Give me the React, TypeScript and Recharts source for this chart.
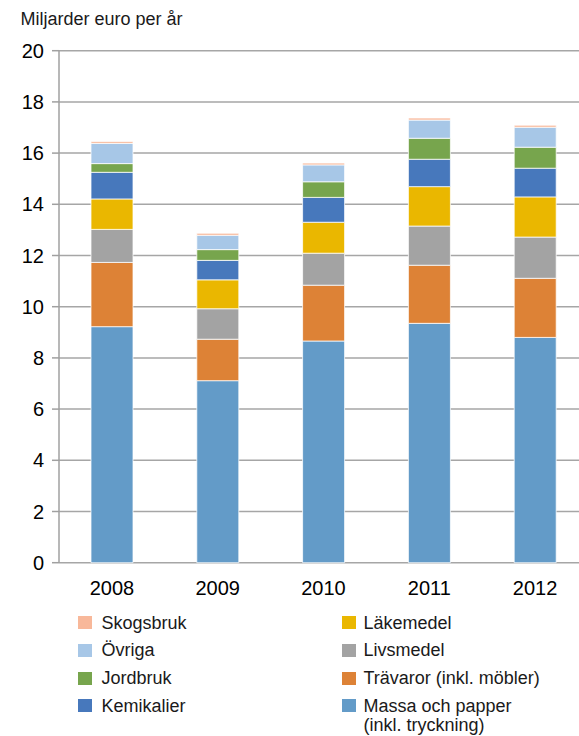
import React from 'react';
import { BarChart, Bar, XAxis, YAxis, CartesianGrid, Legend } from 'recharts';

const years = ['2008', '2009', '2010', '2011', '2012'];
const massa = [9.22, 7.11, 8.66, 9.35, 8.8];
const travaror = [2.51, 1.62, 2.18, 2.27, 2.31];
const livsmedel = [1.29, 1.19, 1.25, 1.53, 1.61];
const lakemedel = [1.19, 1.13, 1.21, 1.54, 1.57];
const kemikalier = [1.04, 0.76, 0.97, 1.07, 1.12];
const jordbruk = [0.34, 0.42, 0.61, 0.82, 0.82];
const ovriga = [0.79, 0.56, 0.66, 0.71, 0.78];
const skogsbruk = [0.07, 0.08, 0.07, 0.08, 0.08];
const yTicks = [0, 2, 4, 6, 8, 10, 12, 14, 16, 18, 20];
const boundaryTicks = [0, 1, 2, 3, 4, 5];

const series = [
  { key: 'massa', name: 'Massa och papper (inkl. tryckning)', color: '#639bc8', values: massa },
  { key: 'travaror', name: 'Trävaror (inkl. möbler)', color: '#dd8236', values: travaror },
  { key: 'livsmedel', name: 'Livsmedel', color: '#a3a3a3', values: livsmedel },
  { key: 'lakemedel', name: 'Läkemedel', color: '#eab700', values: lakemedel },
  { key: 'kemikalier', name: 'Kemikalier', color: '#4778bc', values: kemikalier },
  { key: 'jordbruk', name: 'Jordbruk', color: '#77a54d', values: jordbruk },
  { key: 'ovriga', name: 'Övriga', color: '#a7c7e7', values: ovriga },
  { key: 'skogsbruk', name: 'Skogsbruk', color: '#f8b89a', values: skogsbruk },
];

const legendLeft = ['skogsbruk', 'ovriga', 'jordbruk', 'kemikalier'];
const legendRight = ['lakemedel', 'livsmedel', 'travaror', 'massa'];
const legendTexts: Record<string, string[]> = {
  massa: ['Massa och papper', '(inkl. tryckning)'],
};

const data = years.map((year, i) => {
  const row: Record<string, string | number> = { year };
  series.forEach((s) => {
    row[s.key] = s.values[i];
  });
  return row;
});

const FONT = '"Liberation Sans", Arial, Helvetica, sans-serif';

const LegendContent = () => {
  const rowPitch = 27.8;
  const renderCol = (keys: string[], sqX: number, txtX: number) =>
    keys.map((k, r) => {
      const s = series.find((x) => x.key === k)!;
      const lines = legendTexts[k] || [s.name];
      return (
        <React.Fragment key={k}>
          <div
            style={{
              position: 'absolute',
              left: sqX,
              top: 16 + r * rowPitch,
              width: 14,
              height: 13,
              background: s.color,
            }}
          />
          <div
            style={{
              position: 'absolute',
              left: txtX,
              top: 13.5 + r * rowPitch,
              fontSize: 18,
              lineHeight: '19px',
              color: '#1a1a1a',
              whiteSpace: 'nowrap',
              fontFamily: FONT,
            }}
          >
            {lines.map((l, j) => (
              <div key={j}>{l}</div>
            ))}
          </div>
        </React.Fragment>
      );
    });
  return (
    <div style={{ position: 'relative', width: 579, height: 136 }}>
      {renderCol(legendLeft, 78, 101.5)}
      {renderCol(legendRight, 342, 363.5)}
    </div>
  );
};

export default function App() {
  return (
    <div
      style={{
        position: 'absolute',
        left: 0,
        top: 0,
        width: 579,
        height: 736,
        overflow: 'hidden',
        background: '#fff',
        fontFamily: FONT,
      }}
    >
      <div
        style={{
          position: 'absolute',
          left: 20.5,
          top: 9.8,
          fontSize: 18,
          lineHeight: '18px',
          color: '#1a1a1a',
          whiteSpace: 'nowrap',
          zIndex: 2,
        }}
      >
        Miljarder euro per år
      </div>
      <BarChart
        width={600}
        height={736}
        data={data}
        margin={{ top: 50.7, right: 12, left: 0, bottom: 143.3 }}
        style={{ fontFamily: FONT }}
      >
        <CartesianGrid vertical={false} stroke="#a6a6a6" strokeWidth={1.5} />
        <XAxis
          xAxisId="bounds"
          type="number"
          domain={[0, 5]}
          ticks={boundaryTicks}
          tick={false}
          tickSize={8}
          height={0}
          stroke="#a0a0a0"
          strokeWidth={1.5}
          allowDataOverflow
        />
        <XAxis
          dataKey="year"
          height={30}
          tickLine={false}
          axisLine={false}
          tickSize={8}
          tickMargin={10}
          tick={{ fill: '#000', fontSize: 20, fontFamily: FONT }}
          interval={0}
        />
        <YAxis
          width={59}
          domain={[0, 20]}
          ticks={yTicks}
          interval={0}
          tickSize={7}
          tickMargin={8}
          stroke="#a0a0a0"
          strokeWidth={1.5}
          tick={{ fill: '#000', fontSize: 20, fontFamily: FONT }}
        />
        <Legend
          layout="horizontal"
          verticalAlign="middle"
          align="center"
          wrapperStyle={{ position: 'absolute', top: 600, left: 0, width: 579, height: 136 }}
          content={() => <LegendContent />}
        />
        {series.map((s) => (
          <Bar
            key={s.key}
            dataKey={s.key}
            name={s.name}
            stackId="a"
            fill={s.color}
            stroke="#ffffff"
            strokeWidth={0.75}
            barSize={42}
            isAnimationActive={false}
          />
        ))}
      </BarChart>
    </div>
  );
}
